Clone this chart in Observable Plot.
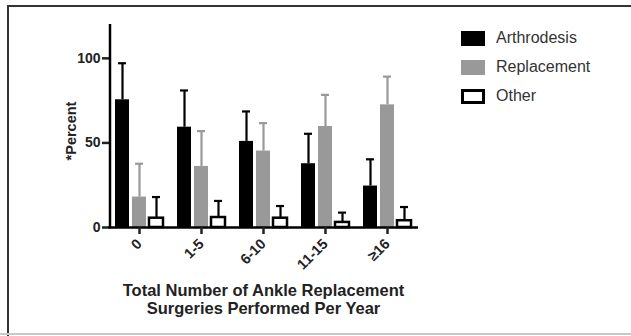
<!DOCTYPE html>
<html>
<head>
<meta charset="utf-8">
<script src="https://cdn.jsdelivr.net/npm/d3@7"></script>
<script src="https://cdn.jsdelivr.net/npm/@observablehq/plot@0.6"></script>
<style>
  html, body { margin: 0; padding: 0; background: #fff; }
  #wrap { position: relative; width: 631px; height: 336px; overflow: hidden; background: #fff;
          font-family: "Liberation Sans", Arial, Helvetica, sans-serif; }
  #frame { position: absolute; left: 7px; top: 5px; width: 640px; height: 340px;
           border-left: 2px solid #333; border-top: 2px solid #333; box-sizing: border-box; }
  #bottomline { position: absolute; left: 0; top: 333px; width: 631px; height: 2px; background: #c8c8c8; }
  #chart { position: absolute; left: 0; top: 0; }
  #ytitle { position: absolute; left: 71px; top: 131px; transform: translate(-50%, -50%) rotate(-90deg);
            font-weight: bold; font-size: 14.5px; color: #222; white-space: nowrap; }
  #xtitle { position: absolute; left: 110px; width: 307px; top: 281px; text-align: center;
            font-weight: bold; font-size: 16.5px; line-height: 18px; color: #222; white-space: nowrap; }
  #legend { position: absolute; left: 461px; top: 31px; }
  .item { position: relative; height: 29px; }
  .sw { position: absolute; left: 0; top: 0; width: 24px; height: 15px; box-sizing: border-box; }
  .lab { position: absolute; left: 35px; top: -2px; font-size: 16px; color: #333; line-height: 18px; white-space: nowrap; }
</style>
</head>
<body>
<div id="wrap">
  <div id="frame"></div>
  <div id="bottomline"></div>
  <div id="chart"></div>
  <div id="ytitle">*Percent</div>
  <div id="xtitle">Total Number of Ankle Replacement<br>Surgeries Performed Per Year</div>
  <div id="legend"></div>
</div>
<script>
const categories = ["0", "1-5", "6-10", "11-15", "≥16"];
const seriesNames = ["Arthrodesis", "Replacement", "Other"];
const arthrodesis      = [75.5, 59.3, 50.9, 37.7, 24.5];
const arthrodesisUpper = [97.1, 81.0, 68.6, 55.4, 40.3];
const replacement      = [18.0, 36.1, 45.2, 59.7, 72.5];
const replacementUpper = [37.7, 57.0, 61.7, 78.4, 89.2];
const other            = [5.5, 5.9, 5.5, 3.0, 4.0];
const otherUpper       = [18.0, 15.7, 12.7, 8.8, 12.1];
const yTicks = [0, 50, 100];
const yMax = 120;

const fills = {Arthrodesis: "#000000", Replacement: "#999999", Other: "#ffffff"};
const errColors = {Arthrodesis: "#000000", Replacement: "#999999", Other: "#000000"};

const valuesBySeries = [arthrodesis, replacement, other];
const upperBySeries = [arthrodesisUpper, replacementUpper, otherUpper];
const data = [];
categories.forEach((c, i) => {
  seriesNames.forEach((s, j) => {
    data.push({cat: c, series: s, value: valuesBySeries[j][i], upper: upperBySeries[j][i]});
  });
});
const solid = data.filter(d => d.series !== "Other");
const hollow = data.filter(d => d.series === "Other");

const marginLeft = 108;
const axisShift = 2;
const chart = Plot.plot({
  width: 631,
  height: 278,
  marginLeft,
  marginRight: 213,
  marginTop: 24,
  marginBottom: 51,
  style: {fontFamily: "'Liberation Sans', Arial, Helvetica, sans-serif", background: "transparent", color: "#222"},
  fx: {domain: categories, padding: 0, label: null},
  x: {domain: seriesNames, paddingInner: 0.18, paddingOuter: 0.39, axis: null},
  y: {domain: [0, yMax], axis: null},
  marks: [
    Plot.ruleX(data, {fx: "cat", x: "series", y1: "value", y2: "upper",
      stroke: d => errColors[d.series], strokeWidth: 2.2}),
    Plot.tickY(data, {fx: "cat", x: "series", y: "upper",
      stroke: d => errColors[d.series], strokeWidth: 2.2, insetLeft: 3, insetRight: 3}),
    Plot.barY(solid, {fx: "cat", x: "series", y: "value", fill: d => fills[d.series]}),
    Plot.barY(hollow, {fx: "cat", x: "series", y: "value", fill: d => fills[d.series],
      stroke: "#000", strokeWidth: 2.5}),
    Plot.ruleY([0], {stroke: "#000", strokeWidth: 2.5}),
    Plot.axisY({ticks: yTicks, tickSize: 8, tickPadding: 2, strokeWidth: 2.5, dx: axisShift,
      fontSize: 14, fontWeight: "bold", label: null}),
    Plot.axisFx({anchor: "bottom", tickSize: 7, tickPadding: 7, tickRotate: -45, strokeWidth: 2.5,
      fontSize: 14.5, fontWeight: "bold", label: null})
  ]
});
document.getElementById("chart").appendChild(chart);

// vertical y-axis line, positioned from the plot's own y scale
const ys = chart.scale("y");
const yScale = d3.scaleLinear().domain(ys.domain).range(ys.range);
d3.select(chart).append("line")
  .attr("x1", marginLeft + axisShift).attr("x2", marginLeft + axisShift)
  .attr("y1", yScale(0) + 1.25).attr("y2", yScale(yMax))
  .attr("stroke", "#000").attr("stroke-width", 2.5);

const legend = document.getElementById("legend");
seriesNames.forEach(s => {
  const item = document.createElement("div");
  item.className = "item";
  const sw = document.createElement("div");
  sw.className = "sw";
  sw.style.background = fills[s];
  if (s === "Other") sw.style.border = "3px solid #000";
  const lab = document.createElement("div");
  lab.className = "lab";
  lab.textContent = s;
  item.appendChild(sw);
  item.appendChild(lab);
  legend.appendChild(item);
});
</script>
</body>
</html>
